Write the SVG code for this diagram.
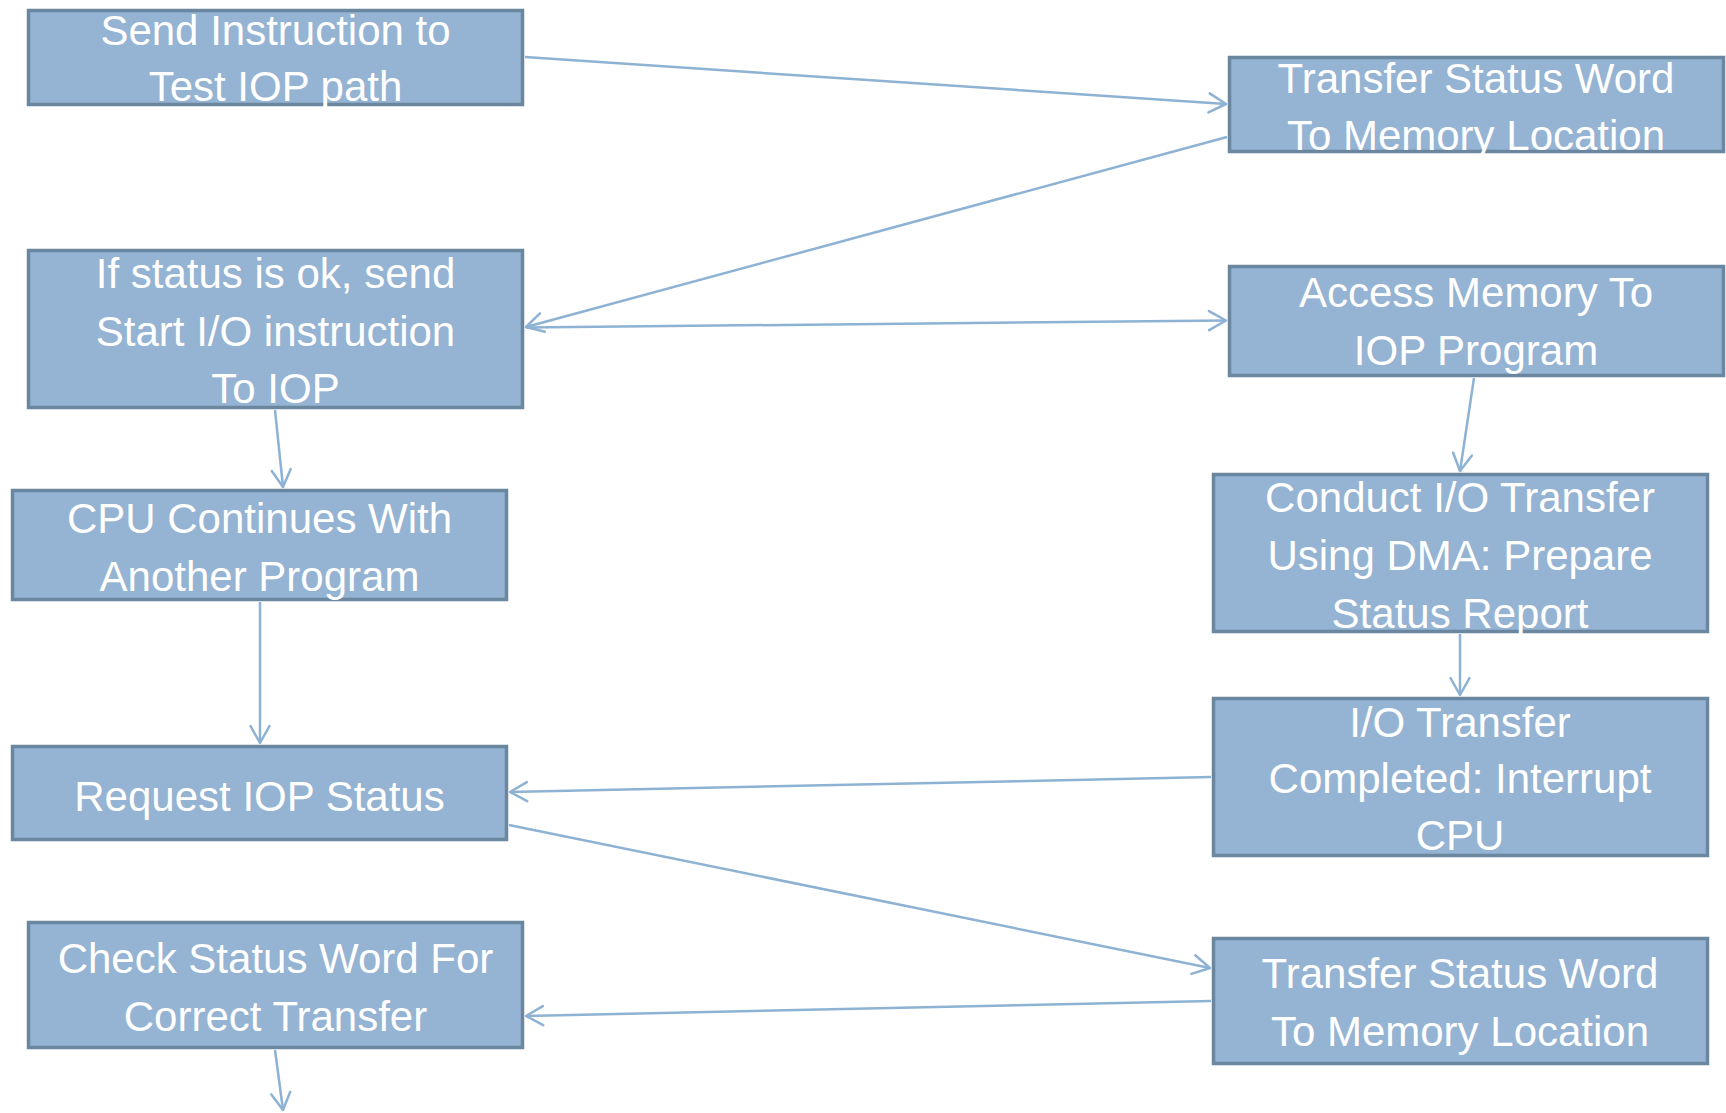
<svg xmlns="http://www.w3.org/2000/svg" width="1726" height="1113" viewBox="0 0 1726 1113">
  <style>
    .box { fill: #95b3d2; stroke: #6a879f; stroke-width: 3.5; }
    .lbl { fill: #ffffff; font-family: "Liberation Sans", Arial, sans-serif; font-size: 42px; text-anchor: middle; }
    .edge { fill: none; stroke: #8db2d4; stroke-width: 2.5; marker-end: url(#arrow); }
  </style>
  <defs>
    <marker id="arrow" markerUnits="userSpaceOnUse" viewBox="-20 -12 22 24" refX="0" refY="0" markerWidth="22" markerHeight="24" orient="auto" overflow="visible">
      <path d="M-17,-9.5 L0,0 L-17,9.5" fill="none" stroke="#8db2d4" stroke-width="2.5" stroke-linecap="round" stroke-linejoin="round"/>
    </marker>
  </defs>
  <rect width="1726" height="1113" fill="#ffffff"/>

  <g id="send-instruction">
    <rect class="box" x="28.5" y="10.5" width="494" height="94"/>
    <text class="lbl" x="275.5" y="45">Send Instruction to</text>
    <text class="lbl" x="275.5" y="101">Test IOP path</text>
  </g>

  <g id="transfer-status-1">
    <rect class="box" x="1229.5" y="57.5" width="494" height="94"/>
    <text class="lbl" x="1476" y="93">Transfer Status Word</text>
    <text class="lbl" x="1476" y="150">To Memory Location</text>
  </g>

  <g id="start-io">
    <rect class="box" x="28.5" y="250.5" width="494" height="157"/>
    <text class="lbl" x="275.5" y="288">If status is ok, send</text>
    <text class="lbl" x="275.5" y="346">Start I/O instruction</text>
    <text class="lbl" x="275.5" y="403">To IOP</text>
  </g>

  <g id="access-memory">
    <rect class="box" x="1229.5" y="266.5" width="494" height="109"/>
    <text class="lbl" x="1476" y="307">Access Memory To</text>
    <text class="lbl" x="1476" y="365">IOP Program</text>
  </g>

  <g id="conduct-transfer">
    <rect class="box" x="1213.5" y="474.5" width="494" height="157"/>
    <text class="lbl" x="1460" y="512">Conduct I/O Transfer</text>
    <text class="lbl" x="1460" y="570">Using DMA: Prepare</text>
    <text class="lbl" x="1460" y="628">Status Report</text>
  </g>

  <g id="cpu-continues">
    <rect class="box" x="12.5" y="490.5" width="494" height="109"/>
    <text class="lbl" x="259.5" y="533">CPU Continues With</text>
    <text class="lbl" x="259.5" y="591">Another Program</text>
  </g>

  <g id="request-status">
    <rect class="box" x="12.5" y="746.5" width="494" height="93"/>
    <text class="lbl" x="259.5" y="811">Request IOP Status</text>
  </g>

  <g id="transfer-completed">
    <rect class="box" x="1213.5" y="698.5" width="494" height="157"/>
    <text class="lbl" x="1460" y="737">I/O Transfer</text>
    <text class="lbl" x="1460" y="793">Completed: Interrupt</text>
    <text class="lbl" x="1460" y="850">CPU</text>
  </g>

  <g id="transfer-status-2">
    <rect class="box" x="1213.5" y="938.5" width="494" height="125"/>
    <text class="lbl" x="1460" y="988">Transfer Status Word</text>
    <text class="lbl" x="1460" y="1046">To Memory Location</text>
  </g>

  <g id="check-status">
    <rect class="box" x="28.5" y="922.5" width="494" height="125"/>
    <text class="lbl" x="275.5" y="973">Check Status Word For</text>
    <text class="lbl" x="275.5" y="1031">Correct Transfer</text>
  </g>

  <g id="connectors">
    <line class="edge" x1="525" y1="57" x2="1226" y2="104"/>
    <line class="edge" x1="1227" y1="137" x2="526" y2="327"/>
    <line class="edge" x1="526" y1="327.5" x2="1226" y2="320.5"/>
    <line class="edge" x1="275" y1="410" x2="283" y2="487"/>
    <line class="edge" x1="260" y1="602" x2="260" y2="743"/>
    <line class="edge" x1="1474" y1="378" x2="1460" y2="471"/>
    <line class="edge" x1="1460" y1="634" x2="1460" y2="695"/>
    <line class="edge" x1="1211" y1="777" x2="510" y2="792"/>
    <line class="edge" x1="509" y1="825" x2="1210" y2="968"/>
    <line class="edge" x1="1211" y1="1001" x2="526" y2="1016"/>
    <line class="edge" x1="275" y1="1050" x2="283" y2="1110"/>
  </g>
</svg>
